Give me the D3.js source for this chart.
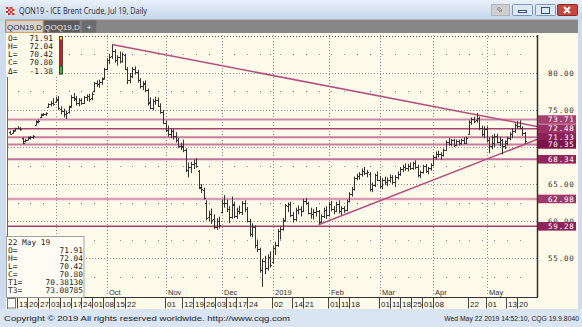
<!DOCTYPE html>
<html><head><meta charset="utf-8">
<script src="https://cdn.jsdelivr.net/npm/d3@7"></script>
<style>body{margin:0;background:#fff;overflow:hidden}svg{display:block;font-family:"Liberation Sans",Arial,sans-serif}</style>
</head><body><svg id="c" width="582" height="327"></svg>
<script>
// ---------------- DATA ----------------
const firstDay = "2018-08-08", lastDay = "2019-05-22";
const holidays = ["2018-12-25", "2019-01-01", "2019-04-19"];
const opens = [72.0,71.9,72.3,72.5,72.5,71.2,70.8,71.0,71.2,71.3,
73.0,73.4,74.0,74.3,74.4,75.4,75.8,76.0,76.1,76.4,
75.2,74.8,74.4,74.7,75.5,76.8,76.5,75.9,76.3,76.0,
76.7,76.9,76.6,77.5,78.6,78.5,78.8,79.3,80.6,81.8,
82.3,83.0,81.7,82.1,81.6,82.4,80.6,79.1,79.6,80.5,
80.2,79.0,78.2,78.5,77.7,76.1,75.3,76.2,76.4,75.6,
74.7,73.3,72.3,71.7,72.1,71.5,70.9,70.2,70.1,69.6,
66.9,67.3,67.7,67.9,66.7,64.6,64.2,62.5,60.5,61.0,
60.3,59.2,60.0,61.2,62.4,62.5,61.6,60.6,62.2,60.7,
61.4,61.2,62.4,61.6,60.0,58.2,59.2,56.7,56.2,53.4,
54.6,53.6,55.2,54.5,56.4,56.8,58.6,58.9,60.1,62.0,
62.3,60.8,60.3,61.5,61.6,61.4,62.7,62.5,61.1,61.0,
61.2,61.4,59.9,60.7,61.5,60.8,62.3,61.6,61.4,62.3,
61.3,61.7,61.5,62.7,63.7,64.3,65.8,66.1,66.3,66.8,
66.5,66.4,64.3,64.8,66.2,65.6,64.7,65.5,65.3,65.6,
65.9,65.3,66.0,66.4,67.0,67.3,67.1,67.4,67.2,67.8,
67.3,66.2,66.6,67.4,66.8,67.1,67.6,68.7,69.1,69.0,
68.9,69.6,70.7,70.4,70.9,70.3,70.8,70.5,70.9,70.6,
71.8,73.4,73.8,73.6,73.9,72.5,71.8,72.4,70.9,70.1,
70.6,71.5,70.7,70.9,70.2,70.8,71.2,71.8,72.2,73.0,
72.9,72.6,71.91];
const highs = [72.2,72.3,72.6,72.8,72.7,71.3,71.1,71.4,71.5,71.6,
73.6,73.7,74.5,74.6,74.7,75.9,76.2,76.6,76.8,76.9,
75.5,75.2,74.9,75.6,77.0,77.3,76.9,76.6,76.6,76.9,
77.1,77.2,77.4,78.8,79.0,79.1,79.4,80.7,82.0,82.6,
83.8,83.2,82.4,82.9,82.8,82.6,80.8,80.0,80.8,80.9,
80.4,79.3,78.9,79.0,77.9,76.7,76.5,76.8,76.7,75.9,
75.0,73.6,72.9,72.5,72.4,72.0,71.2,70.6,71.0,69.8,
67.9,68.0,68.3,68.5,66.9,65.0,64.5,62.8,61.4,61.7,
60.9,60.4,60.6,62.9,63.5,62.9,62.0,63.3,62.6,61.8,
62.1,62.7,62.8,61.9,60.3,59.7,59.4,57.5,56.4,54.9,
55.3,55.5,55.9,56.6,57.2,58.9,59.3,60.4,62.3,62.5,
62.6,61.2,61.8,62.1,62.0,63.0,63.1,62.6,61.8,61.6,
61.9,61.5,60.9,61.8,62.0,62.6,62.7,62.0,62.6,62.8,
62.0,62.0,62.9,63.9,64.6,66.0,66.4,66.6,67.1,67.3,
66.9,66.6,65.2,66.4,66.7,66.1,65.8,66.0,65.9,66.3,
66.2,66.2,66.7,67.3,67.6,67.8,67.7,67.9,68.0,68.2,
67.6,66.8,67.6,67.7,67.3,67.8,68.9,69.4,69.5,69.3,
69.8,70.9,71.2,71.1,71.1,71.0,71.0,71.1,71.3,71.4,
73.6,74.0,74.1,74.6,74.1,72.9,72.8,72.8,71.3,71.6,
71.8,71.8,71.4,71.1,70.9,71.4,72.0,72.5,73.2,73.5,
73.6,72.8,72.04];
const lows = [71.7,71.8,72.1,72.4,72.2,70.4,70.6,70.9,71.0,71.1,
72.9,73.2,73.9,74.2,74.2,75.3,75.5,75.6,76.0,75.0,
74.4,74.0,73.8,74.5,75.3,76.2,75.6,75.5,75.7,75.8,
76.2,76.1,76.3,77.4,78.1,78.0,78.4,79.1,80.4,81.2,
81.9,81.4,81.0,81.3,81.4,80.4,78.5,78.6,79.3,79.8,
78.7,77.9,77.7,77.4,75.6,75.1,75.0,75.7,75.4,74.5,
73.1,72.0,71.4,71.2,71.0,70.6,69.9,69.6,69.3,66.6,
65.9,66.5,67.0,67.2,64.3,63.8,62.9,60.1,60.0,59.6,
58.9,58.8,59.0,61.0,61.8,61.2,59.7,60.3,60.4,60.3,
60.9,60.8,61.2,59.8,57.9,57.8,56.3,55.8,53.0,51.1,
52.8,53.3,53.7,54.2,55.4,56.5,57.5,58.7,59.9,61.2,
60.5,59.8,60.0,60.9,60.6,61.2,62.2,60.9,60.3,60.2,
60.6,59.6,59.8,60.4,60.3,60.6,61.3,60.9,61.2,61.0,
60.8,61.1,61.3,62.5,63.3,64.1,65.5,65.6,66.0,66.2,
65.9,64.0,63.9,64.6,65.4,64.4,64.3,64.9,64.7,65.2,
64.9,64.6,65.6,66.1,66.6,66.8,66.7,66.9,66.9,67.0,
65.9,65.8,66.4,66.5,66.3,66.8,67.4,68.3,68.6,68.3,
68.7,69.5,70.2,70.1,70.0,70.1,70.2,70.3,70.4,70.4,
71.7,73.0,73.2,73.3,72.3,71.4,71.2,70.6,69.2,69.7,
70.0,70.5,70.1,69.0,69.7,70.2,70.9,71.2,71.9,72.5,
72.4,71.5,70.42];
const closes = [71.8,72.2,72.5,72.6,72.4,70.6,70.9,71.3,71.4,71.5,
73.5,73.5,74.4,74.5,74.6,75.8,76.0,75.8,76.5,75.3,
74.8,74.4,74.6,75.4,76.8,76.6,75.9,76.4,76.0,76.7,
76.9,76.5,77.1,78.6,78.5,78.8,79.2,80.5,81.8,82.2,
83.0,81.7,82.2,81.6,82.5,80.6,79.0,79.6,80.5,80.2,
79.0,78.2,78.6,77.7,76.0,75.3,76.2,76.3,75.6,74.7,
73.3,72.3,71.7,72.1,71.5,70.9,70.2,70.0,69.6,66.9,
67.3,67.7,67.9,67.4,64.5,64.3,63.1,60.4,61.0,60.1,
59.2,60.0,59.5,62.4,62.5,61.6,60.5,62.3,60.7,61.4,
61.2,62.4,61.6,60.0,58.2,59.2,56.7,56.2,53.4,54.6,
53.6,55.2,54.1,56.4,56.8,58.6,58.9,60.0,62.1,62.3,
60.8,60.3,61.5,61.6,61.4,62.7,62.5,61.1,61.0,61.2,
61.4,59.9,60.7,61.5,60.8,62.3,61.6,61.4,62.3,61.3,
61.7,61.5,62.7,63.7,64.3,65.8,66.1,66.3,66.8,66.5,
66.6,64.3,64.8,66.2,65.6,64.7,65.5,65.3,65.6,65.9,
65.3,66.0,66.4,67.0,67.3,67.1,67.4,67.2,67.8,67.3,
66.2,66.6,67.4,66.8,67.1,67.6,68.7,69.1,69.0,68.9,
69.6,70.7,70.4,70.9,70.3,70.8,70.5,70.9,70.6,71.2,
73.4,73.8,73.5,73.9,72.5,71.7,72.4,70.9,70.1,71.3,
71.5,70.7,70.9,70.2,70.6,71.2,71.8,72.2,73.0,72.9,
72.6,71.9,70.80];
const levels = [73.71, 72.48, 71.33, 70.35, 68.34, 62.98, 59.28];
const trendStart = ["2018-10-03", "2019-01-28"];
const trendStartVal = [83.85, 59.5];
const trendEnd = ["2019-05-22", "2019-05-22"];
const trendEndVal = [73.09, 70.38];
const yTicks = [55, 60, 65, 70, 75, 80];
const monthLineDates = ["2018-09-03","2018-10-01","2018-11-01","2018-12-03","2019-01-02","2019-02-01","2019-03-01","2019-04-01","2019-05-01"];
const monthLabelDates = ["2018-10-01","2018-11-01","2018-12-03","2019-01-02","2019-02-01","2019-03-01","2019-04-01","2019-05-01"];
const monthLabelText = ["Oct","Nov","Dec","2019","Feb","Mar","Apr","May"];
const dayLabelGroups = [
 ["2018-08-13","2018-08-20","2018-08-27","2018-09-03","2018-09-10","2018-09-17","2018-09-24","2018-10-01","2018-10-08","2018-10-15","2018-10-22"],
 ["2018-11-01"],
 ["2018-11-12","2018-11-19","2018-11-26","2018-12-03","2018-12-10","2018-12-17","2018-12-24"],
 ["2019-01-02"],
 ["2019-01-14","2019-01-21"],
 ["2019-02-01","2019-02-11","2019-02-18"],
 ["2019-03-01","2019-03-11","2019-03-18","2019-03-25","2019-04-01","2019-04-08"],
 ["2019-04-22"],
 ["2019-05-01"],
 ["2019-05-13","2019-05-20"]];
const infoTopKeys = ["O=","H=","L=","C=","\u0394="];
const infoTopVals = ["71.91","72.04","70.42","70.80","-1.38"];
const infoBotHead = "22 May 19";
const infoBotKeys = ["O=","H=","L=","C=","T1=","T3="];
const infoBotVals = ["71.91","72.04","70.42","70.80","70.38130","73.08785"];
const titleText = "QON19 - ICE Brent Crude, Jul 19, Daily";
const tabTexts = ["QON19,D","QOQ19,D","+"];
const statusLeft = "Copyright \u00a9 2019 All rights reserved worldwide. http://www.cqg.com";
const statusRight = "Wed May 22 2019 14:52:10, CQG 19.9.8040";

// ---------------- STYLES ----------------
const levelColor = ["#cd88a8","#a8406f","#c97a9e","#c97ca0","#c0709a","#d99bb6","#a8406f"];
const levelWidth = [2, 1.5, 2, 2, 2, 2.5, 1.5];
const levelBox = ["#a5416f","#9a3064","#8c1f56","#7e1349","#922459","#a0386a","#8f2257"];
const cream = "#fffbea";
const mono = "'DejaVu Sans Mono', monospace";

// ---------------- SCALES ----------------
const parse = d3.timeParse("%Y-%m-%d"), fmt = d3.timeFormat("%Y-%m-%d");
const days = d3.timeDay.range(parse(firstDay), d3.timeDay.offset(parse(lastDay), 1))
  .filter(d => d.getDay() % 6 !== 0 && !holidays.includes(fmt(d)));
const idx = new Map(days.map((d, i) => [fmt(d), i]));
const P = {l: 8, r: 537, t: 35, b: 296};
const x = d3.scaleLinear().domain([-0.8, 206.7]).range([P.l, P.r]);
const y = d3.scaleLinear().domain([49.865, 85.135]).range([P.b, P.t]);
const weekStarts = days.map((d, i) => i).filter(i => i > 0 && +d3.timeMonday.floor(days[i]) !== +d3.timeMonday.floor(days[i - 1]));

const svg = d3.select("#c");
svg.append("rect").attr("width", 582).attr("height", 327).attr("fill", "#cddcee");
const defs = svg.append("defs");
const gr = defs.append("linearGradient").attr("id", "tb").attr("x1", 0).attr("y1", 0).attr("x2", 0).attr("y2", 1);
gr.append("stop").attr("offset", 0).attr("stop-color", "#e8f0fa");
gr.append("stop").attr("offset", 1).attr("stop-color", "#c6d8ec");
svg.append("rect").attr("width", 582).attr("height", 19).attr("fill", "url(#tb)");
svg.append("clipPath").attr("id", "pc").append("rect").attr("x", P.l).attr("y", P.t).attr("width", P.r - P.l).attr("height", P.b - P.t);

// title icon + title
const ic = svg.append("g").attr("transform", "translate(6,7)");
ic.append("rect").attr("width", 9).attr("height", 8).attr("fill", "#fff");
[[0,0],[4,0],[2,2],[6,2],[0,4],[4,4],[2,6],[6,6]].forEach(p => ic.append("rect").attr("x", p[0]).attr("y", p[1]).attr("width", 2.5).attr("height", 2).attr("fill", "#d42a2a"));
svg.append("text").attr("x", 19).attr("y", 13.5).attr("font-size", 9).attr("fill", "#1e2430")
  .attr("font-family", "'Open Sans',sans-serif").attr("textLength", 128).attr("lengthAdjust", "spacingAndGlyphs").text(titleText);
// window buttons
svg.append("rect").attr("x", 491.5).attr("y", 4.5).attr("width", 18).attr("height", 11).attr("fill", "#cfcfcf").attr("stroke", "#b4b4b4");
svg.append("path").attr("d", "M497,8 l5,4 M499,7 l3,3 l-2,2 l-3,-3z").attr("stroke", "#999").attr("fill", "#bbb");
[512.5, 535.5].forEach(bx => svg.append("rect").attr("x", bx).attr("y", 4.5).attr("width", 20).attr("height", 11).attr("rx", 1).attr("fill", "#dde8f5").attr("stroke", "#7d97bb"));
svg.append("rect").attr("x", 518.5).attr("y", 10.5).attr("width", 8).attr("height", 2).attr("fill", "#fff").attr("stroke", "#34507a");
svg.append("rect").attr("x", 541.5).attr("y", 7.5).attr("width", 8).attr("height", 6).attr("fill", "none").attr("stroke", "#34507a");
svg.append("rect").attr("x", 557.5).attr("y", 4.5).attr("width", 20).attr("height", 11).attr("rx", 1).attr("fill", "#c9463d").attr("stroke", "#8e2b25");
svg.append("path").attr("d", "M564,7 l6,6 M570,7 l-6,6").attr("stroke", "#fff").attr("stroke-width", 2);

// tab row
svg.append("rect").attr("x", 5).attr("y", 19.5).attr("width", 573).attr("height", 13.5).attr("fill", "#878787");
const tabs = [[6, 37, "#d2d2d2", "#333"], [44, 36, "#5a5a5a", "#e6e6e6"], [82, 14, "#6c6c6c", "#fff"]];
tabs.forEach((t, i) => {
  svg.append("rect").attr("x", t[0]).attr("y", 20.5).attr("width", t[1]).attr("height", 12).attr("fill", t[2]).attr("stroke", i === 0 ? "#e3a04a" : "#777").attr("stroke-width", 0.8);
  svg.append("text").attr("x", t[0] + t[1] / 2).attr("y", 29.5).attr("text-anchor", "middle").attr("font-size", 8).attr("fill", t[3]).text(tabTexts[i]);
});

// chart background + status bar
svg.append("rect").attr("x", 6).attr("y", 33).attr("width", 572).attr("height", 276).attr("fill", cream);
svg.append("rect").attr("x", 0).attr("y", 309).attr("width", 582).attr("height", 18).attr("fill", "#d9e5f2");
svg.append("text").attr("x", 4).attr("y", 321).attr("font-size", 8).attr("fill", "#222").attr("textLength", 286).attr("lengthAdjust", "spacingAndGlyphs").text(statusLeft);
svg.append("text").attr("x", 579).attr("y", 321).attr("text-anchor", "end").attr("font-size", 6.8).attr("fill", "#222").text(statusRight);

// grid
const grid = svg.append("g").attr("clip-path", "url(#pc)");
d3.range(55, 86, 5).forEach(v => {
  grid.append("line").attr("x1", P.l).attr("x2", P.r).attr("y1", Math.round(y(v)) + 0.5).attr("y2", Math.round(y(v)) + 0.5)
    .attr("stroke", v === 85 ? "#555" : "#8a8a8a").attr("stroke-dasharray", "1,2");
});
const monthIdx = monthLineDates.map(d => idx.get(d));
monthIdx.forEach(i => {
  grid.append("line").attr("x1", Math.round(x(i)) + 0.5).attr("x2", Math.round(x(i)) + 0.5).attr("y1", P.t).attr("y2", P.b)
    .attr("stroke", "#8a8a8a").attr("stroke-dasharray", "1,2");
});
d3.range(52.5, 85, 5).forEach(v => {
  weekStarts.filter(i => !monthIdx.includes(i)).forEach(i => {
    grid.append("rect").attr("x", Math.round(x(i))).attr("y", Math.round(y(v))).attr("width", 1).attr("height", 1).attr("fill", "#888");
  });
});

// horizontal levels + trend lines
const lv = svg.append("g").attr("clip-path", "url(#pc)");
levels.forEach((v, k) => lv.append("line").attr("x1", P.l).attr("x2", P.r).attr("y1", y(v)).attr("y2", y(v))
  .attr("stroke", levelColor[k]).attr("stroke-width", levelWidth[k]));
trendStart.forEach((d, k) => {
  const i0 = idx.get(d), i1 = idx.get(trendEnd[k]);
  const slope = (trendEndVal[k] - trendStartVal[k]) / (i1 - i0);
  const iE = x.domain()[1];
  lv.append("line").attr("x1", x(i0)).attr("y1", y(trendStartVal[k])).attr("x2", x(iE)).attr("y2", y(trendStartVal[k] + slope * (iE - i0)))
    .attr("stroke", "#b4507e").attr("stroke-width", 1.5);
});

// OHLC bars
const bars = svg.append("g").attr("clip-path", "url(#pc)").attr("stroke", "#333").attr("stroke-width", 1).attr("fill", "none");
bars.selectAll("path").data(days.map((d, i) => i)).join("path")
  .attr("d", i => {
    const cx = Math.round(x(i)) + 0.5;
    const yo = Math.round(y(opens[i])) + 0.5, yc = Math.round(y(closes[i])) + 0.5;
    return `M${cx},${y(highs[i])}V${y(lows[i])}M${cx - 1.5},${yo}H${cx}M${cx},${yc}H${cx + 1.5}`;
  });

// plot frame
svg.append("line").attr("x1", P.r + 0.5).attr("x2", P.r + 0.5).attr("y1", P.t).attr("y2", P.b + 1).attr("stroke", "#333").attr("stroke-width", 1.5);
svg.append("line").attr("x1", P.l - 0.5).attr("x2", P.l - 0.5).attr("y1", P.t).attr("y2", 309).attr("stroke", "#666");
svg.append("line").attr("x1", P.l).attr("x2", P.r + 1).attr("y1", P.b + 1.5).attr("y2", P.b + 1.5).attr("stroke", "#333");

// right axis labels (a label hidden behind a level box is not drawn)
const shownTicks = yTicks.filter(v => levels.every(l => Math.abs(y(l) - y(v)) > 4));
svg.append("g").selectAll("text").data(shownTicks).join("text")
  .attr("x", 548).attr("y", v => y(v) + 2.8).attr("font-family", mono).attr("font-size", 7.5).attr("letter-spacing", 0.8)
  .attr("fill", "#333").text(v => v.toFixed(2));
levels.forEach((v, k) => {
  svg.append("rect").attr("x", P.r + 1).attr("y", y(v) - 4.3).attr("width", 38).attr("height", 8.6).attr("fill", levelBox[k]);
  svg.append("text").attr("x", 548).attr("y", y(v) + 2.8).attr("font-family", mono).attr("font-size", 7.5).attr("letter-spacing", 0.8)
    .attr("fill", "#fff").text(v.toFixed(2));
});

// month labels
monthLabelDates.forEach((d, k) => svg.append("text").attr("x", Math.round(x(idx.get(d))) + 2).attr("y", 294.5).attr("font-size", 7.5).attr("fill", "#333").text(monthLabelText[k]));

// day label row
svg.append("rect").attr("x", 7.5).attr("y", 298.5).attr("width", 8).attr("height", 9.5).attr("fill", "#fff").attr("stroke", "#777");
const dayG = svg.append("g");
dayLabelGroups.forEach(grp => {
  const x0 = x(idx.get(grp[0]));
  grp.forEach((d, j) => {
    const px = Math.round(x0 + j * 10.8);
    dayG.append("line").attr("x1", px - 0.5).attr("x2", px - 0.5).attr("y1", 298).attr("y2", 308.5).attr("stroke", "#444");
    dayG.append("text").attr("x", px + 1).attr("y", 306.5).attr("font-size", 8).attr("fill", "#222").text(d.slice(8, 10));
  });
});

// top-left info box
svg.append("rect").attr("x", 6).attr("y", 33).attr("width", 57).attr("height", 44).attr("fill", cream);
infoTopKeys.forEach((k, r) => {
  svg.append("text").attr("x", 8).attr("y", 40.5 + r * 8.3).attr("font-family", mono).attr("font-size", 7.8).attr("fill", "#222").text(k);
  svg.append("text").attr("x", 53).attr("y", 40.5 + r * 8.3).attr("text-anchor", "end").attr("font-family", mono).attr("font-size", 7.8).attr("fill", "#222").text(infoTopVals[r]);
});
svg.append("rect").attr("x", 59.5).attr("y", 36.5).attr("width", 3).attr("height", 37.5).attr("fill", "#d81c1c").attr("stroke", "#333").attr("stroke-width", 0.8);
svg.append("rect").attr("x", 59.5).attr("y", 66).attr("width", 3).attr("height", 8).attr("fill", "#32c032").attr("stroke", "#333").attr("stroke-width", 0.8);
svg.append("rect").attr("x", 60).attr("y", 37).attr("width", 2).attr("height", 2.5).attr("fill", "#f0d800");

// bottom-left info box
svg.append("rect").attr("x", 6.5).attr("y", 236.5).attr("width", 77.5).attr("height", 61).attr("fill", "#fffdf3").attr("stroke", "#8a8a8a").attr("stroke-width", 0.8);
svg.append("text").attr("x", 8).attr("y", 244.5).attr("font-family", mono).attr("font-size", 7.8).attr("fill", "#222").text(infoBotHead);
infoBotKeys.forEach((k, r) => {
  svg.append("text").attr("x", 8).attr("y", 252.6 + r * 8.1).attr("font-family", mono).attr("font-size", 7.8).attr("fill", "#222").text(k);
  svg.append("text").attr("x", 83).attr("y", 252.6 + r * 8.1).attr("text-anchor", "end").attr("font-family", mono).attr("font-size", 7.8).attr("fill", "#222").text(infoBotVals[r]);
});
</script></body></html>
